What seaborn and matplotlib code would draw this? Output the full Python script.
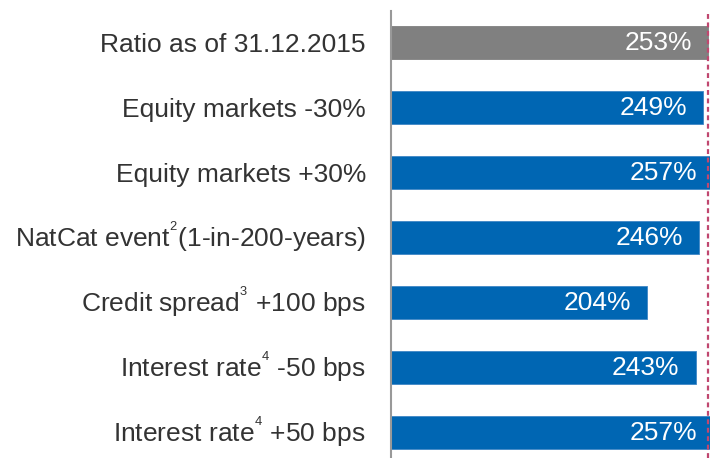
import matplotlib
matplotlib.use('Agg')
import matplotlib.pyplot as plt
import matplotlib.transforms as mtransforms
import seaborn as sns

# scenario labels (top to bottom) and solvency ratios in %
labels = [
    'Ratio as of 31.12.2015',
    'Equity markets -30%',
    'Equity markets +30%',
    'NatCat event$^{^{2}}$(1-in-200-years)',
    'Credit spread$^{^{3}}$ +100 bps',
    'Interest rate$^{^{4}}$ -50 bps',
    'Interest rate$^{^{4}}$ +50 bps',
]
values = [253, 249, 257, 246, 204, 243, 257]
bar_colors = ['#808080', '#0066B3', '#0066B3', '#0066B3', '#0066B3', '#0066B3', '#0066B3']
edge_colors = ['#808080', '#3F86C6', '#3F86C6', '#3F86C6', '#3F86C6', '#3F86C6', '#3F86C6']
reference = 253

sns.set_style('white')
plt.rcParams['font.family'] = ['Liberation Sans', 'DejaVu Sans']
plt.rcParams['mathtext.fontset'] = 'custom'
plt.rcParams['mathtext.rm'] = 'Liberation Sans'
plt.rcParams['mathtext.it'] = 'Liberation Sans'

fig = plt.figure(figsize=(7.1, 4.58), dpi=100)
ax = fig.add_axes([0.5507, 0.0, 0.4493, 0.976])

sns.barplot(x=values, y=labels, hue=labels, palette=bar_colors, legend=False,
            width=0.5, orient='h', ax=ax, saturation=1, linewidth=0.6)
for patch, ec in zip(ax.patches, edge_colors):
    patch.set_edgecolor(ec)

ax.set_xlim(0, 254.5)
ax.set_ylim(6.39, -0.485)

# dashed reference line at current ratio
ax.axvline(reference, color='#C0476F', linestyle=(0, (2.2, 1.6)), linewidth=1.6, zorder=5)

for i, v in enumerate(values):
    ax.annotate(f'{v}%', xy=(v, i), xytext=(-11.5, 0), textcoords='offset points',
                ha='right', va='center', color='white', fontsize=19,
                annotation_clip=False)

ax.set_xlabel('')
ax.set_ylabel('')
ax.set_xticks([])
ax.tick_params(axis='y', length=0, pad=18, labelsize=19, labelcolor='#333333')

# mathtext labels sit a bit low, nudge them up
shift = mtransforms.ScaledTranslation(0, 3 / 72, fig.dpi_scale_trans)
for lab in ax.get_yticklabels():
    if '$' in lab.get_text():
        lab.set_transform(lab.get_transform() + shift)

for side in ['top', 'right', 'bottom']:
    ax.spines[side].set_visible(False)
ax.spines['left'].set_color('#999999')
ax.spines['left'].set_linewidth(1.5)

fig.savefig('out.png', dpi=100)
